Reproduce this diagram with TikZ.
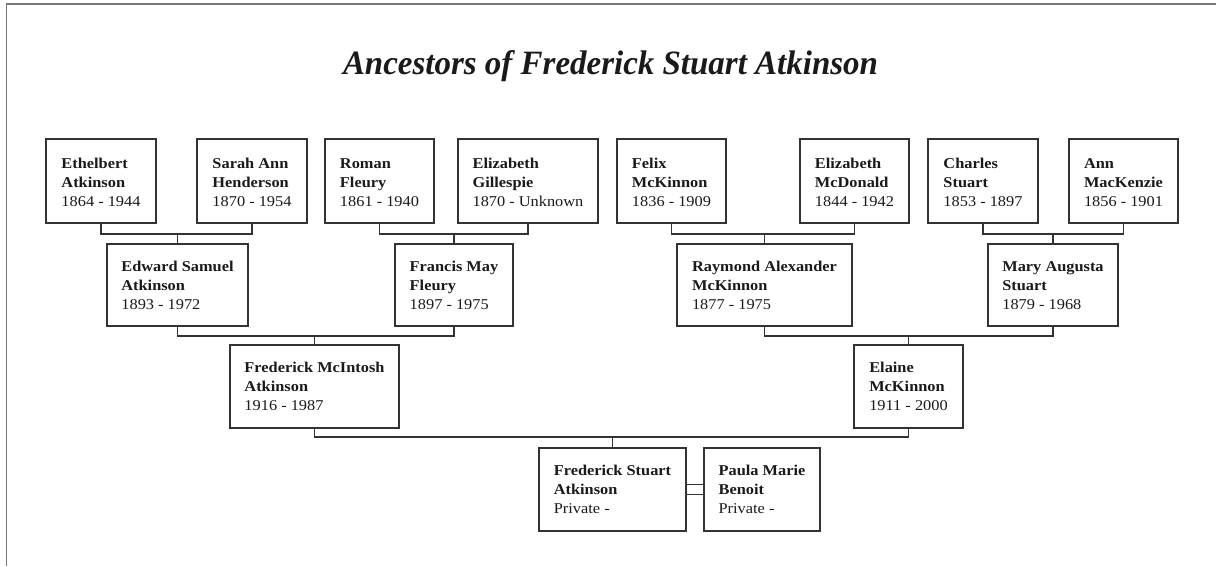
\documentclass[tikz,border=0pt]{standalone}
\usepackage{fontspec}
\setmainfont{Liberation Serif}
\newfontfamily\boxfont{Liberation Serif}[FakeStretch=1.09]
\newfontfamily\titlefont{Liberation Serif}
\usetikzlibrary{calc}
\definecolor{framegray}{HTML}{777777}
\definecolor{linecol}{HTML}{333333}
\definecolor{txtcol}{HTML}{1A1A1A}
\tikzset{
  pbox/.style={draw=linecol, line width=1.8pt, fill=white, align=left, inner sep=0pt,
    font=\boxfont\fontsize{15}{19}\selectfont, text=txtcol},
  toprow/.style={pbox, minimum height=84pt, text height=67pt, text depth=17pt},
  midrow/.style={pbox, minimum height=82pt, text height=65.5pt, text depth=16.5pt},
  lowrow/.style={pbox, minimum height=83pt, text height=65.5pt, text depth=17.5pt},
  conn/.style={draw=linecol, line width=1.9pt},
  frameline/.style={draw=framegray, line width=1.6pt}
}
\begin{document}
\begin{tikzpicture}[x=1pt,y=-1pt]
\useasboundingbox (0,0) rectangle (1216,566);
\fill[white] (0,0) rectangle (1216,566);
\draw[frameline] (6.5,566) -- (6.5,4) -- (1216,4);

\node[anchor=base, inner sep=0pt, text=txtcol] (title) at (610.5,74)
  {\resizebox{535pt}{24pt}{\titlefont\bfseries\itshape Ancestors of Frederick Stuart Atkinson}};

% great-grandparents
\node[toprow, minimum width=110pt] (e1) at (101,181)    {\textbf{Ethelbert}\\\textbf{Atkinson}\\1864 - 1944};
\node[toprow, minimum width=110pt] (e2) at (252,181)    {\textbf{Sarah Ann}\\\textbf{Henderson}\\1870 - 1954};
\node[toprow, minimum width=109pt] (e3) at (379.5,181)  {\textbf{Roman}\\\textbf{Fleury}\\1861 - 1940};
\node[toprow, minimum width=140pt] (e4) at (528,181)    {\textbf{Elizabeth}\\\textbf{Gillespie}\\1870 - Unknown};
\node[toprow, minimum width=109pt] (e5) at (671.5,181)  {\textbf{Felix}\\\textbf{McKinnon}\\1836 - 1909};
\node[toprow, minimum width=109pt] (e6) at (854.5,181)  {\textbf{Elizabeth}\\\textbf{McDonald}\\1844 - 1942};
\node[toprow, minimum width=110pt] (e7) at (983,181)    {\textbf{Charles}\\\textbf{Stuart}\\1853 - 1897};
\node[toprow, minimum width=109pt] (e8) at (1123.5,181) {\textbf{Ann}\\\textbf{MacKenzie}\\1856 - 1901};

% grandparents
\node[midrow, minimum width=141pt] (d1) at (177.5,285) {\textbf{Edward Samuel}\\\textbf{Atkinson}\\1893 - 1972};
\node[midrow, minimum width=118pt] (d2) at (454,285)   {\textbf{Francis May}\\\textbf{Fleury}\\1897 - 1975};
\node[midrow, minimum width=175pt] (d3) at (764.5,285) {\textbf{Raymond Alexander}\\\textbf{McKinnon}\\1877 - 1975};
\node[midrow, minimum width=130pt] (d4) at (1053,285)  {\textbf{Mary Augusta}\\\textbf{Stuart}\\1879 - 1968};

% parents
\node[lowrow, minimum width=169pt] (c1) at (314.5,386.5) {\textbf{Frederick McIntosh}\\\textbf{Atkinson}\\1916 - 1987};
\node[lowrow, minimum width=109pt] (c2) at (908.5,386.5) {\textbf{Elaine}\\\textbf{McKinnon}\\1911 - 2000};

% subject and spouse
\node[lowrow, minimum width=147pt] (b1) at (612.5,489.5) {\textbf{Frederick Stuart}\\\textbf{Atkinson}\\Private -};
\node[lowrow, minimum width=116pt] (b2) at (762,489.5)   {\textbf{Paula Marie}\\\textbf{Benoit}\\Private -};

% junction points
\coordinate (j1) at (d1.north |- 0,234);
\coordinate (j2) at (d2.north |- 0,234);
\coordinate (j3) at (d3.north |- 0,234);
\coordinate (j4) at (d4.north |- 0,234);
\coordinate (k1) at (c1.north |- 0,336);
\coordinate (k2) at (c2.north |- 0,336);
\coordinate (m1) at (b1.north |- 0,437);

% connectors
\draw[conn] (e1.south) |- (j1) -| (e2.south);  \draw[conn] (j1) -- (d1.north);
\draw[conn] (e3.south) |- (j2) -| (e4.south);  \draw[conn] (j2) -- (d2.north);
\draw[conn] (e5.south) |- (j3) -| (e6.south);  \draw[conn] (j3) -- (d3.north);
\draw[conn] (e7.south) |- (j4) -| (e8.south);  \draw[conn] (j4) -- (d4.north);
\draw[conn] (d1.south) |- (k1) -| (d2.south);  \draw[conn] (k1) -- (c1.north);
\draw[conn] (d3.south) |- (k2) -| (d4.south);  \draw[conn] (k2) -- (c2.north);
\draw[conn] (c1.south) |- (m1) -| (c2.south);  \draw[conn] (m1) -- (b1.north);

% marriage double line
\draw[conn] ([yshift=-5pt]b1.east) -- ([yshift=-5pt]b2.west);
\draw[conn] ([yshift=5pt]b1.east) -- ([yshift=5pt]b2.west);
\end{tikzpicture}
\end{document}
